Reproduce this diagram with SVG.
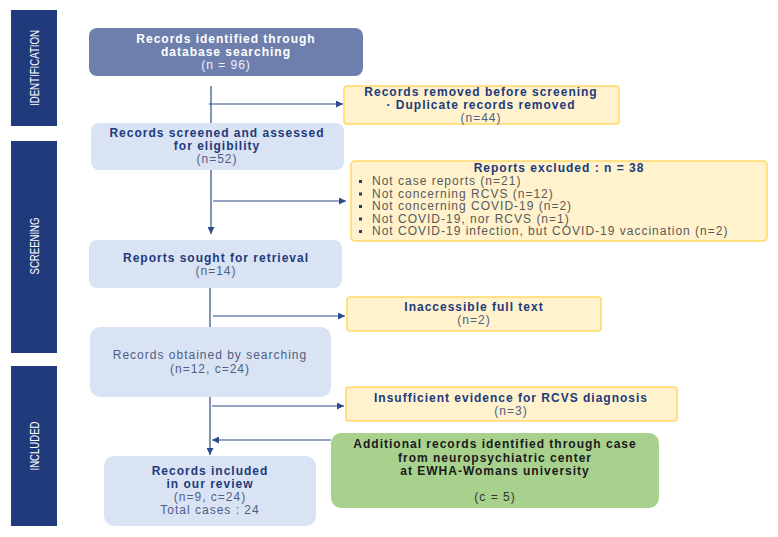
<svg xmlns="http://www.w3.org/2000/svg" width="778" height="537" viewBox="0 0 778 537">
<style>
.bar{fill:#203a7b}
.side{fill:#fff;font-family:"Liberation Sans",Arial,sans-serif;font-size:13px}
.blue{fill:#dae3f3}
.yel{fill:#fff2cc;stroke:#ffd966;stroke-width:1.5}
.t{font-family:"Liberation Sans",Arial,sans-serif;font-size:12px;text-anchor:middle;letter-spacing:1px}
.b{font-weight:bold;fill:#203a7b}
.n{fill:#4e5e84}
.w{fill:#fff;font-weight:bold}
.wl{fill:#eef1f8}
.g{fill:#595959}
.k{fill:#1a1a1a;font-weight:bold}
.ln{stroke:#2f4a8c;stroke-width:1.2;fill:none}
</style>
<defs>
<marker id="ah" viewBox="0 0 10 10" refX="10" refY="5" markerWidth="7" markerHeight="7" markerUnits="userSpaceOnUse" orient="auto">
<path d="M0,0 L10,5 L0,10 z" fill="#2f4a8c"/>
</marker>
</defs>
<rect width="778" height="537" fill="#fff"/>
<g id="phases">
<rect class="bar" x="11" y="10" width="46" height="116"/>
<text class="side" transform="translate(39,68) rotate(-90)" text-anchor="middle" textLength="76" lengthAdjust="spacingAndGlyphs">IDENTIFICATION</text>
<rect class="bar" x="11" y="141" width="46" height="212"/>
<text class="side" transform="translate(39,246) rotate(-90)" text-anchor="middle" textLength="57" lengthAdjust="spacingAndGlyphs">SCREENING</text>
<rect class="bar" x="11" y="366" width="46" height="160"/>
<text class="side" transform="translate(39,446) rotate(-90)" text-anchor="middle" textLength="49" lengthAdjust="spacingAndGlyphs">INCLUDED</text>
</g>
<g id="connectors">
<line class="ln" x1="211" y1="86" x2="211" y2="123"/>
<line class="ln" x1="209" y1="104" x2="343" y2="104" marker-end="url(#ah)"/>
<line class="ln" x1="211" y1="170" x2="211" y2="234" marker-end="url(#ah)"/>
<line class="ln" x1="213" y1="201" x2="346" y2="201" marker-end="url(#ah)"/>
<line class="ln" x1="210" y1="288" x2="210" y2="327"/>
<line class="ln" x1="213" y1="316" x2="345" y2="316" marker-end="url(#ah)"/>
<line class="ln" x1="210" y1="397" x2="210" y2="455" marker-end="url(#ah)"/>
<line class="ln" x1="212" y1="406" x2="344" y2="406" marker-end="url(#ah)"/>
<line class="ln" x1="331" y1="440" x2="212" y2="440" marker-end="url(#ah)"/>
</g>
<g id="identified">
<rect x="89" y="28" width="274" height="48" rx="8" fill="#6e7fae"/>
<text class="t w" x="226" y="43">Records identified through</text>
<text class="t w" x="226" y="56">database searching</text>
<text class="t wl" x="226" y="69">(n = 96)</text>
</g>
<g id="removed">
<rect class="yel" x="344" y="86" width="275" height="38" rx="3"/>
<text class="t b" x="481" y="96">Records removed before screening</text>
<text class="t b" x="481" y="109">·  Duplicate records removed</text>
<text class="t n" x="481" y="122">(n=44)</text>
</g>
<g id="screened">
<rect class="blue" x="91" y="123" width="253" height="47" rx="8"/>
<text class="t b" x="217" y="137">Records screened and assessed</text>
<text class="t b" x="217" y="150">for eligibility</text>
<text class="t n" x="217" y="163">(n=52)</text>
</g>
<g id="excluded">
<rect class="yel" x="351" y="161" width="416" height="80" rx="4"/>
<text class="t b" x="559" y="172">Reports excluded : n = 38</text>
<g class="t g" style="text-anchor:start">
<text x="372" y="185">Not case reports (n=21)</text>
<text x="372" y="197.5">Not concerning RCVS (n=12)</text>
<text x="372" y="210">Not concerning COVID-19 (n=2)</text>
<text x="372" y="222.5">Not COVID-19, nor RCVS (n=1)</text>
<text x="372" y="235">Not COVID-19 infection, but COVID-19 vaccination (n=2)</text>
</g>
<g fill="#203a7b">
<rect x="359" y="180" width="3" height="3"/>
<rect x="359" y="192.5" width="3" height="3"/>
<rect x="359" y="205" width="3" height="3"/>
<rect x="359" y="217.5" width="3" height="3"/>
<rect x="359" y="230" width="3" height="3"/>
</g>
</g>
<g id="sought">
<rect class="blue" x="89" y="240" width="253" height="48" rx="8"/>
<text class="t b" x="216" y="262">Reports sought for retrieval</text>
<text class="t n" x="216" y="275">(n=14)</text>
</g>
<g id="inaccessible">
<rect class="yel" x="347" y="297" width="254" height="34" rx="3"/>
<text class="t b" x="474" y="311">Inaccessible full text</text>
<text class="t n" x="474" y="324">(n=2)</text>
</g>
<g id="obtained">
<rect class="blue" x="90" y="327" width="241" height="70" rx="10"/>
<text class="t n" x="210" y="359">Records obtained by searching</text>
<text class="t n" x="210" y="373">(n=12, c=24)</text>
</g>
<g id="insufficient">
<rect class="yel" x="346" y="387" width="331" height="34" rx="3"/>
<text class="t b" x="511" y="402">Insufficient evidence for RCVS diagnosis</text>
<text class="t n" x="511" y="415">(n=3)</text>
</g>
<g id="additional">
<rect x="331" y="433" width="328" height="75" rx="10" fill="#a9d18e"/>
<text class="t k" x="495" y="448">Additional records identified through case</text>
<text class="t k" x="495" y="462">from neuropsychiatric center</text>
<text class="t k" x="495" y="475">at EWHA-Womans university</text>
<text class="t" x="495" y="501" fill="#333">(c = 5)</text>
</g>
<g id="included">
<rect class="blue" x="104" y="456" width="212" height="70" rx="10"/>
<text class="t b" x="210" y="475">Records included</text>
<text class="t b" x="210" y="488">in our review</text>
<text class="t n" x="210" y="501">(n=9, c=24)</text>
<text class="t n" x="210" y="514">Total cases : 24</text>
</g>
</svg>
